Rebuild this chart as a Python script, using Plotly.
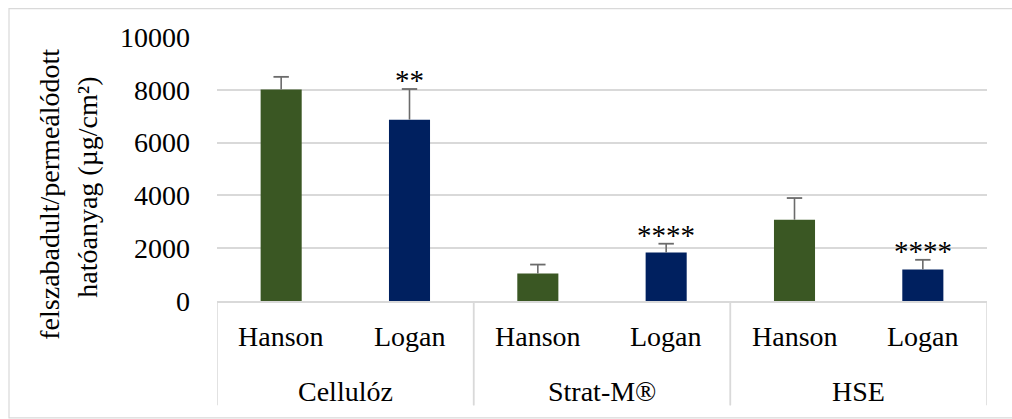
import plotly.graph_objects as go

# Release/permeation data per membrane and diffusion cell
membranes = ["Cellulóz", "Cellulóz", "Strat-M®", "Strat-M®", "HSE", "HSE"]
cells = ["Hanson", "Logan", "Hanson", "Logan", "Hanson", "Logan"]
means = [8010, 6870, 1040, 1840, 3080, 1190]
sd = [480, 1160, 340, 330, 820, 370]
significance = ["", "**", "", "****", "", "****"]
bar_colors = {"Hanson": "#3a5723", "Logan": "#00205f"}
y_ticks = [0, 2000, 4000, 6000, 8000, 10000]
y_title = ["felszabadult/permeálódott", "hatóanyag (µg/cm²)"]

FONT = "Liberation Serif, Times New Roman, serif"
GRID = "#d9d9d9"
BLACK = "#000000"
ERR = "#6b6b6b"

# plot-area geometry in pixels (used to convert into paper units)
L, R, T, B = 217, 25, 37, 117.5
W, H = 1012, 419
PW, PH = W - L - R, H - T - B

def py(pixel_y):
    return (H - B - pixel_y) / PH

def px(pixel_x):
    return (pixel_x - L) / PW

pos = list(range(len(cells)))
colors = [bar_colors[c] for c in cells]
tops = [m + s for m, s in zip(means, sd)]

fig = go.Figure()
# bars with plus-only error whiskers (no caps, so nothing shows on the bar top)
fig.add_trace(go.Bar(
    x=pos, y=means,
    marker=dict(color=colors, line=dict(width=0)),
    error_y=dict(type="data", array=sd, arrayminus=[0] * len(sd),
                 symmetric=False, color=ERR, thickness=1.6, width=0),
    width=0.32, showlegend=False,
))
# caps at the upper end of each whisker
fig.add_trace(go.Scatter(
    x=pos, y=tops, mode="markers",
    marker=dict(symbol="line-ew", size=11, line=dict(color=ERR, width=1.8)),
    showlegend=False, hoverinfo="skip",
))

# significance stars above the error bars
for i, (t, s) in enumerate(zip(tops, significance)):
    if s:
        fig.add_annotation(x=i, y=t, text=s, showarrow=False,
                           yanchor="bottom", yshift=-9,
                           font=dict(family=FONT, size=29, color=BLACK))

# first-level category labels (diffusion cell)
for i, c in enumerate(cells):
    fig.add_annotation(x=i, xref="x", y=py(337), yref="paper", text=c,
                       showarrow=False, xanchor="center", yanchor="middle",
                       font=dict(family=FONT, size=28, color=BLACK))

# second-level labels (membrane) and group dividers
groups = []
for m in membranes:
    if m not in groups:
        groups.append(m)
for g in groups:
    idx = [i for i, m in enumerate(membranes) if m == g]
    fig.add_annotation(x=sum(idx) / len(idx), xref="x", y=py(392), yref="paper",
                       text=g, showarrow=False, xanchor="center", yanchor="middle",
                       font=dict(family=FONT, size=28, color=BLACK))
    for edge in (min(idx) - 0.5, max(idx) + 0.5):
        fig.add_shape(type="line", xref="x", yref="paper", x0=edge, x1=edge,
                      y0=0, y1=py(406), line=dict(color=GRID, width=1.5))

# rotated two-line axis title
for line_text, cx, cy in zip(y_title, (50, 88), (195, 188)):
    fig.add_annotation(xref="paper", yref="paper", x=px(cx), y=py(cy),
                       xanchor="center", yanchor="middle", text=line_text,
                       textangle=-90, showarrow=False,
                       font=dict(family=FONT, size=28, color=BLACK))

# outer chart frame
fig.add_shape(type="rect", xref="paper", yref="paper",
              x0=px(9), x1=px(1030), y0=py(418.5), y1=py(8.5),
              line=dict(color=GRID, width=1.2), fillcolor="rgba(0,0,0,0)",
              layer="below")

fig.update_layout(
    width=W, height=H,
    margin=dict(l=L, r=R, t=T, b=B),
    paper_bgcolor="white", plot_bgcolor="white",
    font=dict(family=FONT, size=28, color=BLACK),
    xaxis=dict(range=[-0.5, len(cells) - 0.5], showticklabels=False,
               showgrid=False, zeroline=False, showline=True,
               linecolor=GRID, linewidth=1.5, ticks=""),
    yaxis=dict(range=[0, 10000], tickvals=y_ticks, tickformat="d",
               showgrid=True, gridcolor=GRID, gridwidth=1.5,
               zeroline=False, showline=False, ticks="",
               ticklabelstandoff=26,
               tickfont=dict(family=FONT, size=28, color=BLACK)),
)

fig.write_html("out.html")
